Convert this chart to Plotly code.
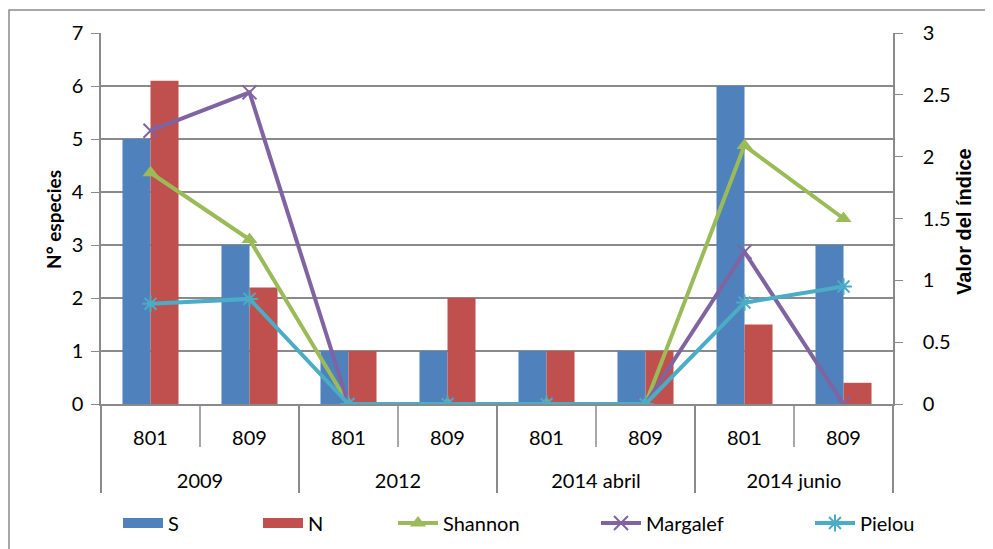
import plotly.graph_objects as go

years = ["2009", "2009", "2012", "2012", "2014 abril", "2014 abril", "2014 junio", "2014 junio"]
stations = ["801", "809", "801", "809", "801", "809", "801", "809"]

S = [5, 3, 1, 1, 1, 1, 6, 3]
N = [6.1, 2.2, 1, 2, 1, 1, 1.5, 0.4]
shannon = [1.87, 1.33, 0, 0, 0, 0, 2.09, 1.50]
margalef = [2.21, 2.52, 0, 0, 0, 0, 1.23, 0]
pielou = [0.81, 0.85, 0, 0, 0, 0, 0.82, 0.95]

left_ticks = [0, 1, 2, 3, 4, 5, 6, 7]
right_ticks = [0, 0.5, 1, 1.5, 2, 2.5, 3]

C_S = "#4F81BD"
C_N = "#C0504D"
C_SH = "#9BBB59"
C_MA = "#8064A2"
C_PI = "#4BACC6"
GRID = "#8A8A8A"
FONT = "Lato"
LABEL_PX = 20

# page offset of the plot div (body margin) -> work in reference pixels, convert here
OFF = 8
W, H = 993 - OFF, 549 - OFF
PL, PR, PT, PB = 101, 893, 33, 404          # plot area in reference pixels
L, R, T, B = PL - OFF, W - (PR - OFF), PT - OFF, H - (PB - OFF)
pw, ph = PR - PL, PB - PT


def px_x(p):
    return (p - PL) / pw


def px_y(p):
    return (PB - p) / ph


def lab(t, extra=0):
    s = f"<span style='font-size:{LABEL_PX}px'>{t}</span>"
    return s + "<br>\u00a0" * extra


x = [[lab(y) for y in years], [lab(s, 2) for s in stations]]

fig = go.Figure()
fig.add_trace(go.Bar(x=x, y=S, name="S", marker=dict(color=C_S, line=dict(width=0)), showlegend=False))
fig.add_trace(go.Bar(x=x, y=N, name="N", marker=dict(color=C_N, line=dict(width=0)), showlegend=False))
fig.add_trace(go.Scatter(x=x, y=shannon, name="Shannon", yaxis="y2", mode="lines+markers",
                         line=dict(color=C_SH, width=4),
                         marker=dict(symbol="triangle-up", size=14, color=C_SH), legend="legend3"))
fig.add_trace(go.Scatter(x=x, y=margalef, name="Margalef", yaxis="y2", mode="lines+markers",
                         line=dict(color=C_MA, width=4),
                         marker=dict(symbol="x-thin-open", size=14, line=dict(color=C_MA, width=2)), legend="legend4"))
fig.add_trace(go.Scatter(x=x, y=pielou, name="Pielou", yaxis="y2", mode="lines+markers",
                         line=dict(color=C_PI, width=4),
                         marker=dict(symbol="asterisk-open", size=14, line=dict(color=C_PI, width=2)), legend="legend5"))
# legend proxies for the bar series (wide rectangles like the original legend)
fig.add_trace(go.Scatter(x=[None], y=[None], name="S", mode="lines", line=dict(color=C_S, width=11), legend="legend"))
fig.add_trace(go.Scatter(x=[None], y=[None], name="N", mode="lines", line=dict(color=C_N, width=11), legend="legend2"))

leg_common = dict(orientation="h", yanchor="middle", y=px_y(523), xanchor="left",
                  font=dict(family=FONT, size=20, color="#000"), bgcolor="rgba(0,0,0,0)",
                  itemwidth=40)
legend_x = {"legend": 118, "legend2": 258, "legend3": 393, "legend4": 596, "legend5": 810}

shapes = []
# outer chart frame
shapes.append(dict(type="rect", xref="paper", yref="paper", x0=px_x(9), x1=px_x(1010), y0=px_y(570), y1=px_y(10),
                   line=dict(color="#8C8C8C", width=1.5), layer="below"))
# sub-category tick marks between stations
n = len(stations)
for i in range(n - 1):
    if years[i] == years[i + 1]:
        shapes.append(dict(type="line", xref="x", yref="paper", x0=i + 0.5, x1=i + 0.5, y0=0, y1=px_y(447),
                           line=dict(color=GRID, width=1.5)))

fig.update_layout(
    width=W, height=H,
    margin=dict(l=L, r=R, t=T, b=B, autoexpand=False),
    paper_bgcolor="white", plot_bgcolor="white",
    barmode="group", bargap=0.434, bargroupgap=0,
    font=dict(family=FONT, size=19, color="#000"),
    xaxis=dict(type="multicategory", showline=True, linecolor=GRID, linewidth=1.5,
               ticks="", ticklabelstandoff=21,
               showdividers=True, dividercolor=GRID, dividerwidth=1.5,
               tickfont=dict(family=FONT, size=15), showgrid=False),
    yaxis=dict(range=[0, 7], tickvals=left_ticks, showgrid=True, gridcolor=GRID, gridwidth=1.5,
               showline=True, linecolor=GRID, linewidth=1.5, ticks="outside", ticklen=8, tickcolor=GRID,
               ticklabelstandoff=4, tickfont=dict(family=FONT, size=20), zeroline=False),
    yaxis2=dict(range=[0, 3], tickvals=right_ticks, overlaying="y", side="right", showgrid=False,
                showline=True, linecolor=GRID, linewidth=1.5, ticks="outside", ticklen=8, tickcolor=GRID,
                ticklabelstandoff=16, tickfont=dict(family=FONT, size=20), zeroline=False),
    legend=dict(x=px_x(legend_x["legend"]), **leg_common),
    legend2=dict(x=px_x(legend_x["legend2"]), **leg_common),
    legend3=dict(x=px_x(legend_x["legend3"]), **leg_common),
    legend4=dict(x=px_x(legend_x["legend4"]), **leg_common),
    legend5=dict(x=px_x(legend_x["legend5"]), **leg_common),
    shapes=shapes,
    annotations=[
        dict(text="<b>N° especies</b>", textangle=-90, xref="paper", yref="paper", x=px_x(53), y=px_y(220),
             xanchor="center", yanchor="middle", showarrow=False, font=dict(family=FONT, size=19)),
        dict(text="<b>Valor del índice</b>", textangle=-90, xref="paper", yref="paper", x=px_x(964), y=px_y(222),
             xanchor="center", yanchor="middle", showarrow=False, font=dict(family="Liberation Sans", size=20)),
    ],
)

fig.write_html("out.html")
